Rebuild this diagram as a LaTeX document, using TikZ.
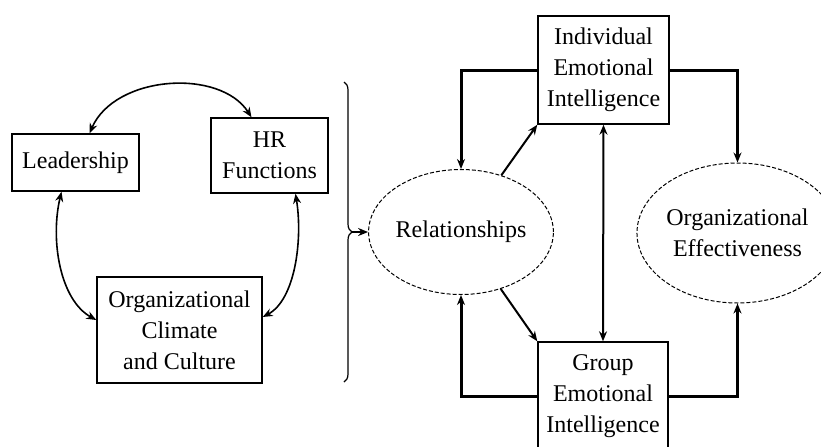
\documentclass[tikz,border=0pt]{standalone}
\usepackage{fontspec}
\setmainfont{Liberation Serif}
\usetikzlibrary{arrows.meta,shapes.geometric,decorations.pathreplacing}

\begin{document}
\begin{tikzpicture}[x=0.5pt,y=-0.5pt,
		every node/.style={font=\fontsize{12}{15.5}\selectfont, align=center, inner sep=0pt},
		factor/.style={draw, line width=0.7pt, rectangle},
		outcome/.style={draw, ellipse, dash pattern=on 2pt off 1pt, line width=0.5pt},
		loop/.style={line width=0.8pt, {Stealth[length=5pt,width=4pt]}-{Stealth[length=5pt,width=4pt]}},
		feed/.style={line width=1.5pt, -{Stealth[length=5pt,width=4pt]}},
		link/.style={line width=1pt, -{Stealth[length=5pt,width=4pt]}}]
			\useasboundingbox (0,0) rectangle (821,446);
			% left cycle
			\node[factor, minimum width=63.5pt, minimum height=28.5pt] (lead) at (75.5,162.5) {Leadership};
			\node[factor, minimum width=58.5pt, minimum height=37.5pt] (hr) at (269.5,155.5) {HR\\Functions};
			\node[factor, minimum width=82.5pt, minimum height=53pt] (climate) at (179.5,330) {Organizational\\Climate\\and Culture};
			\draw[loop] ([xshift=7pt]lead.north) .. controls (115,75) and (220,68) .. ([xshift=-9pt]hr.north);
			\draw[loop] ([xshift=-7pt]lead.south) .. controls (50,240) and (60,300) .. ([yshift=5pt]climate.west);
			\draw[loop] ([xshift=13pt]hr.south) .. controls (303,240) and (295,300) .. ([yshift=6.5pt]climate.east);
			\draw[line width=0.6pt, decorate, decoration={brace, amplitude=4pt}] (344,82) -- (344,382);
			\coordinate (brtip) at (352,232);
			% right model
			\node[outcome, minimum width=78pt, minimum height=62.5pt] (rel) at (461,232) {Relationships};
			\node[outcome, minimum width=82.5pt, minimum height=70pt] (orgeff) at (737.5,233) {Organizational\\Effectiveness};
			\node[factor, minimum width=65.5pt, minimum height=54pt] (indiv) at (603.5,70) {Individual\\Emotional\\Intelligence};
			\node[factor, minimum width=65pt, minimum height=54pt] (group) at (603,396) {Group\\Emotional\\Intelligence};
			\draw[link, line width=1.2pt] (brtip) -- (rel);
			\draw[link] (rel) -- (indiv.south west);
			\draw[link] (rel) -- (group.north west);
			\draw[link, {Stealth[length=5pt,width=4pt]}-{Stealth[length=5pt,width=4pt]}] (indiv.south) -- (group.north);
			\draw[feed] (indiv.west) -| (rel.north);
			\draw[feed] (indiv.east) -| (orgeff.north);
			\draw[feed] (group.west) -| (rel.south);
			\draw[feed] (group.east) -| (orgeff.south);
		\end{tikzpicture}
\end{document}
